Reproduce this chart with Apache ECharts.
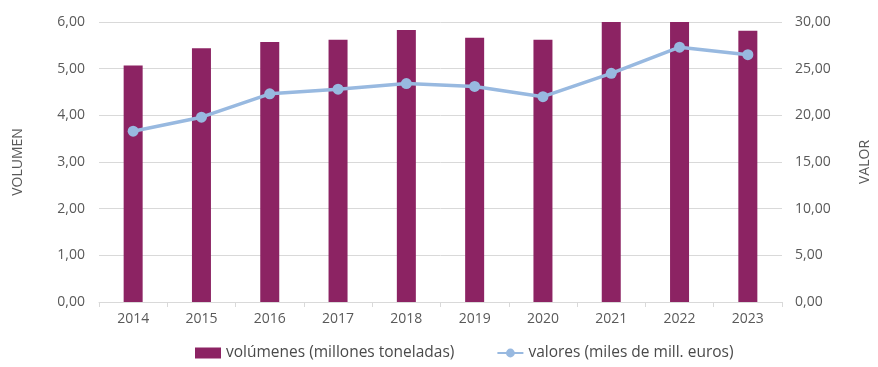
<!DOCTYPE html>
<html>
<head>
<meta charset="utf-8">
<script src="https://cdn.jsdelivr.net/npm/echarts@6/dist/echarts.min.js"></script>
<style>
  html, body { margin: 0; padding: 0; background: #fff; }
  #chart { width: 878px; height: 367px; }
</style>
</head>
<body>
<div id="chart"></div>
<script>
const years = ['2014', '2015', '2016', '2017', '2018', '2019', '2020', '2021', '2022', '2023']
const volumenes = [5.07, 5.44, 5.57, 5.62, 5.83, 5.66, 5.62, 6.0, 6.0, 5.81]
const valores = [18.3, 19.8, 22.3, 22.8, 23.4, 23.1, 22.0, 24.5, 27.3, 26.5]

const fmt = v => v.toFixed(2).replace('.', ',')
const font = '"Open Sans", "DejaVu Sans", sans-serif'

const chart = echarts.init(document.getElementById('chart'))
chart.setOption({
  animation: false,
  textStyle: { fontFamily: font },
  grid: { left: 99, right: 96, top: 22, bottom: 65, outerBoundsMode: 'none' },
  legend: {
    bottom: 1,
    left: 190,
    itemGap: 42,
    itemWidth: 26,
    itemHeight: 11,
    textStyle: { color: '#4a4a4a', fontSize: 15.5, fontFamily: font },
    data: [
      { name: 'volúmenes (millones toneladas)', icon: 'rect' },
      { name: 'valores (miles de mill. euros)' }
    ]
  },
  xAxis: {
    type: 'category',
    data: years,
    axisLine: { lineStyle: { color: '#d9d9d9' } },
    axisTick: { show: true, length: 5, lineStyle: { color: '#d9d9d9' } },
    axisLabel: { color: '#595959', fontSize: 14, margin: 10 }
  },
  yAxis: [{
    type: 'value',
    min: 0, max: 6, interval: 1,
    name: 'VOLUMEN',
    nameLocation: 'middle',
    nameRotate: 90,
    nameGap: 74,
    nameTextStyle: { color: '#595959', fontSize: 14 },
    axisLabel: { color: '#595959', fontSize: 14, formatter: fmt, margin: 14 },
    splitLine: { lineStyle: { color: '#d9d9d9' } }
  }, {
    type: 'value',
    min: 0, max: 30, interval: 5,
    position: 'right',
    name: 'VALOR',
    nameLocation: 'middle',
    nameRotate: 90,
    nameGap: 76,
    nameTextStyle: { color: '#595959', fontSize: 14 },
    axisLabel: { color: '#595959', fontSize: 14, formatter: fmt, margin: 13 },
    splitLine: { show: false }
  }],
  series: [{
    name: 'volúmenes (millones toneladas)',
    type: 'bar',
    data: volumenes,
    barWidth: 19,
    itemStyle: { color: '#8c2363' }
  }, {
    name: 'valores (miles de mill. euros)',
    type: 'line',
    yAxisIndex: 1,
    data: valores,
    symbol: 'circle',
    symbolSize: 11,
    lineStyle: { color: '#98b9e0', width: 3.5 },
    itemStyle: { color: '#98b9e0' }
  }]
})
</script>
</body>
</html>
